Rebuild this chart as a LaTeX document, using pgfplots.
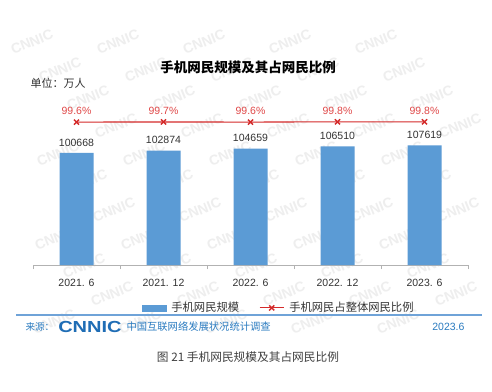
\documentclass[border=0pt]{standalone}
\usepackage{pgfplots}
\pgfplotsset{compat=1.18}
\usepackage{fontspec}
\setmainfont{Liberation Sans}
\newfontfamily\cjk{Noto Sans CJK SC}
\definecolor{barblue}{HTML}{5B9BD5}
\definecolor{linered}{HTML}{D42A2A}
\definecolor{labred}{HTML}{E04848}
\definecolor{footblue}{HTML}{2A7BC0}
\definecolor{logoblue}{HTML}{1F6DB5}
\definecolor{ruleblue}{HTML}{6FA3D8}
\definecolor{txt}{HTML}{333333}
\definecolor{wm}{HTML}{EEEEEE}
\pgfplotsset{mylinelegend/.style={legend image code/.code={\draw[mark repeat=2,mark phase=2,##1] plot coordinates {(0pt,0pt) (12pt,0pt) (24pt,0pt)};}}}
\begin{document}
\begin{tikzpicture}
\path[use as bounding box, fill=white] (0,0) rectangle (492pt,391pt);
% faint CNNIC watermark
\foreach \r in {0,...,10}{
  \foreach \c in {0,...,5}{
    \pgfmathtruncatemacro\xx{32+mod(28*\r,86)+86*\c}
    \pgfmathtruncatemacro\yy{391-42-28*\r}
    \ifnum\xx<462
      \node[text=wm, font=\bfseries\fontsize{14}{14}\selectfont, rotate=22, inner sep=0pt] at (\xx pt,\yy pt) {CNNIC};
    \fi
  }
}
\begin{axis}[
  at={(33pt,126pt)}, anchor=south west, scale only axis,
  width=435pt, height=165pt,
  xmin=-0.5, xmax=4.5, ymin=0, ymax=148300,
  ybar, bar width=34pt,
  axis x line*=bottom, hide y axis, scaled y ticks=false,
  xtick={0,1,2,3,4},
  xticklabels={2021. 6, 2021. 12, 2022. 6, 2022. 12, 2023. 6},
  major tick length=0pt,
  extra x ticks={-0.5,0.5,1.5,2.5,3.5,4.5},
  extra x tick labels={},
  extra x tick style={major tick length=4pt, tick align=outside, tick style={draw=gray!60, line width=0.8pt}},
  x axis line style={draw=gray!60, line width=0.8pt},
  xticklabel style={font=\fontsize{10.5}{12}\selectfont, text=txt, yshift=-11pt},
  clip=false,
]
\addplot[fill=barblue, draw=none,
  nodes near coords, point meta=explicit symbolic,
  nodes near coords style={font=\fontsize{10.5}{12}\selectfont, text=txt, yshift=3pt}]
  coordinates {(0,100668)[100668] (1,102874)[102874] (2,104659)[104659] (3,106510)[106510] (4,107619)[107619]};
\end{axis}
\begin{axis}[
  at={(33pt,126pt)}, anchor=south west, scale only axis,
  width=435pt, height=165pt,
  xmin=-0.5, xmax=4.5, ymin=0, ymax=115,
  hide x axis, hide y axis, clip=false,
  legend columns=2,
  legend style={at={(0.565,-0.26)}, anchor=center, draw=none, fill=none,
    font=\cjk\fontsize{11.3}{13}\selectfont, text=txt,
    /tikz/every odd column/.append style={column sep=3pt},
    /tikz/every even column/.append style={column sep=18pt}},
]
\addlegendimage{legend image code/.code={\fill[barblue] (0pt,-3pt) rectangle (24pt,3pt);}}
\addlegendentry{手机网民规模}
\addplot[linered, line width=1.1pt, mark=x, mark size=3.6pt, mark options={line width=1.4pt},
  nodes near coords, point meta=explicit symbolic,
  nodes near coords style={font=\fontsize{10.5}{12}\selectfont, text=labred, yshift=3pt},
  mylinelegend]
  coordinates {(0,99.6)[99.6\%] (1,99.7)[99.7\%] (2,99.6)[99.6\%] (3,99.8)[99.8\%] (4,99.8)[99.8\%]};
\addlegendentry{手机网民占整体网民比例}
\end{axis}
\node[font=\cjk\bfseries\fontsize{13.5}{16}\selectfont, text=black] at (248pt,324pt) {手机网民规模及其占网民比例};
\node[anchor=west, font=\cjk\fontsize{11}{13}\selectfont, text=txt] at (27pt,308pt) {单位：万人};
\draw[ruleblue, line width=1.2pt] (16pt,76pt) -- (482pt,76pt);
\node[anchor=west, text=footblue, font=\cjk\fontsize{9.5}{11}\selectfont] at (22pt,64pt) {来源：};
\node[anchor=west, text=logoblue, font=\bfseries\fontsize{16}{16}\selectfont, inner sep=0pt, xscale=1.25] at (58pt,64pt) {CNNIC};
\node[anchor=west, text=footblue, font=\cjk\fontsize{10.3}{12}\selectfont] at (123pt,64pt) {中国互联网络发展状况统计调查};
\node[anchor=east, text=footblue, font=\fontsize{10.5}{12}\selectfont] at (468pt,64pt) {2023.6};
\node[font=\cjk\fontsize{11.7}{14}\selectfont, text=black!75] at (248pt,34pt) {图 21 手机网民规模及其占网民比例};
\end{tikzpicture}
\end{document}
